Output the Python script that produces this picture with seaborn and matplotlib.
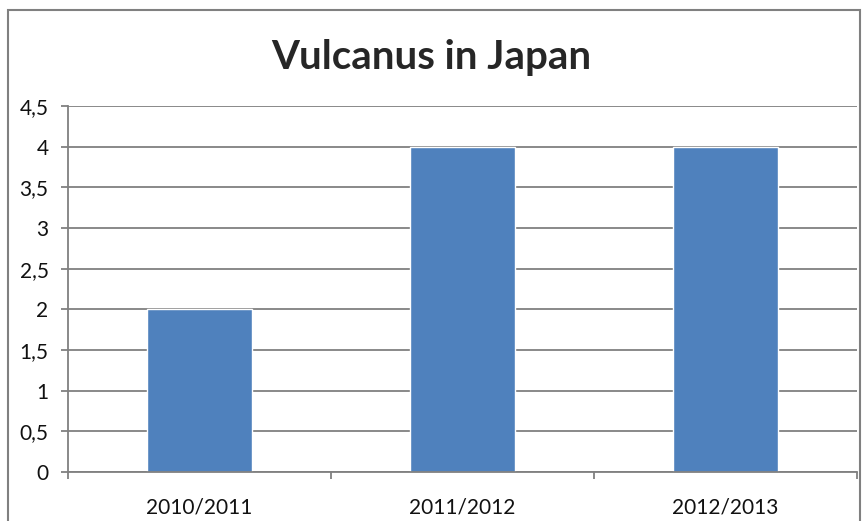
import matplotlib.pyplot as plt
import matplotlib.patches as patches
import pandas as pd
import seaborn as sns

seasons = ["2010/2011", "2011/2012", "2012/2013"]
participants = [2, 4, 4]
y_ticks = [0, 0.5, 1, 1.5, 2, 2.5, 3, 3.5, 4, 4.5]
y_labels = ["0", "0,5", "1", "1,5", "2", "2,5", "3", "3,5", "4", "4,5"]


def make_plot(path="out.png"):
    sns.set_style("white")
    plt.rcParams["font.family"] = ["Lato", "DejaVu Sans"]

    data = pd.DataFrame({"season": seasons, "count": participants})

    fig = plt.figure(figsize=(8.63, 5.21), dpi=100)
    ax = fig.add_axes([68 / 863, 1 - 472 / 521, (857 - 68) / 863, (472 - 106) / 521])

    sns.barplot(data=data, x="season", y="count", color="#4F81BD",
                saturation=1, width=0.4, ax=ax)

    ax.set_ylim(0, 4.5)
    ax.set_xlim(-0.5, 2.5)
    ax.set_yticks(y_ticks)
    ax.set_yticklabels(y_labels)
    ax.set_xticks([0, 1, 2])
    ax.set_xticklabels(seasons)
    ax.set_xticks([-0.5, 0.5, 1.5, 2.5], minor=True)
    ax.set_xlabel("")
    ax.set_ylabel("")

    ax.grid(axis="y", color="#808080", linewidth=1.3)
    ax.set_axisbelow(True)
    for side in ["top", "right"]:
        ax.spines[side].set_visible(False)
    for side in ["left", "bottom"]:
        ax.spines[side].set_color("#808080")
        ax.spines[side].set_linewidth(1.3)

    ax.tick_params(axis="y", which="major", length=5, width=1.3, color="#808080",
                   labelsize=15, pad=9, left=True, labelcolor="#111111")
    ax.tick_params(axis="x", which="major", length=0, labelsize=15, pad=18,
                   labelcolor="#111111")
    ax.tick_params(axis="x", which="minor", length=5, width=1.3, color="#808080",
                   bottom=True)

    fig.text(0.5, 1 - 57 / 521, "Vulcanus in Japan", ha="center", va="center",
             fontsize=29, fontweight="bold")

    border = patches.Rectangle((8 / 863, -0.05), (860 - 8) / 863, 1.05 - 10 / 521,
                               transform=fig.transFigure, fill=False,
                               edgecolor="#808080", linewidth=1.5)
    fig.patches.append(border)

    print('Saving: {}'.format(path))
    plt.savefig(path, dpi=100)
    plt.close()


make_plot()
